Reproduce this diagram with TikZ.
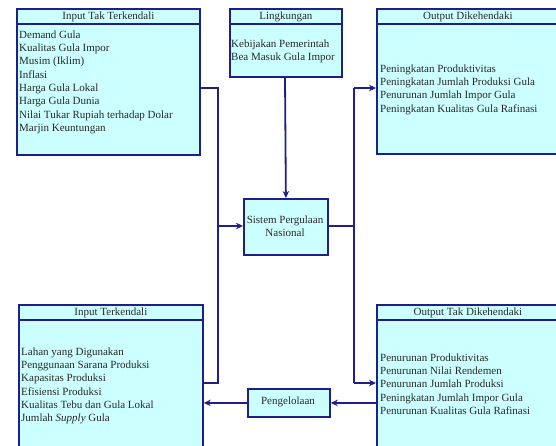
\documentclass[tikz,border=0pt]{standalone}
\usepackage{fontspec}
\setmainfont{Liberation Serif}
\usetikzlibrary{arrows.meta}
\definecolor{navy}{RGB}{30,30,140}
\definecolor{boxfill}{RGB}{204,255,255}
\definecolor{ink}{RGB}{40,40,40}
\tikzset{
  panel/.style={draw=navy, fill=boxfill, line width=1.8pt, anchor=north west, inner sep=0pt},
  head/.style={draw=navy, fill=boxfill, line width=1.8pt, anchor=north west, inner sep=0pt, minimum height=15pt, font=\fontsize{11}{12}\selectfont, text=ink},
  items/.style={anchor=north west, align=left, inner sep=0pt, font=\fontsize{11}{13.3}\selectfont, text=ink},
  link/.style={draw=navy, line width=1.8pt},
  arr/.style={link, -{Stealth[length=7pt,width=6.5pt]}},
}
\begin{document}
\begin{tikzpicture}[x=1pt,y=-1pt]
\useasboundingbox (0,0) rectangle (556,446);
\clip (0,0) rectangle (556,446);

% Input Tak Terkendali
\node[panel, minimum width=183pt, minimum height=146pt] (itk) at (16,8) {};
\node[head, minimum width=183pt] (itkh) at (16,8) {Input Tak Terkendali};
\node[items] (itkt) at (19,30.5) {Demand Gula\\Kualitas Gula Impor\\Musim (Iklim)\\Inflasi\\Harga Gula Lokal\\Harga Gula Dunia\\Nilai Tukar Rupiah terhadap Dolar\\Marjin Keuntungan};

% Lingkungan
\node[panel, minimum width=112pt, minimum height=68pt] (lk) at (229,8) {};
\node[head, minimum width=112pt] (lkh) at (229,8) {Lingkungan};
\node[items] (lkt) at (231,39.5) {Kebijakan Pemerintah\\Bea Masuk Gula Impor};

% Output Dikehendaki
\node[panel, minimum width=182pt, minimum height=145pt] (od) at (376,8) {};
\node[head, minimum width=182pt] (odh) at (376,8) {Output Dikehendaki};
\node[items] (odt) at (380,64.5) {Peningkatan Produktivitas\\Peningkatan Jumlah Produksi Gula\\Penurunan Jumlah Impor Gula\\Peningkatan Kualitas Gula Rafinasi};

% Sistem Pergulaan Nasional
\node[panel, minimum width=84pt, minimum height=56pt] (sys) at (243,198) {};
\node[items, anchor=center, align=center] (syst) at (285,226) {Sistem Pergulaan\\Nasional};

% Input Terkendali
\node[panel, minimum width=184pt, minimum height=160pt] (it) at (18,304) {};
\node[head, minimum width=184pt] (ith) at (18,304) {Input Terkendali};
\node[items] (itt) at (21,347.5) {Lahan yang Digunakan\\Penggunaan Sarana Produksi\\Kapasitas Produksi\\Efisiensi Produksi\\Kualitas Tebu dan Gula Lokal\\Jumlah \textit{Supply} Gula};

% Pengelolaan
\node[panel, minimum width=82pt, minimum height=28pt] (pg) at (247,388) {};
\node[items, anchor=center] (pgt) at (288,402) {Pengelolaan};

% Output Tak Dikehendaki
\node[panel, minimum width=182pt, minimum height=160pt] (otd) at (376,304) {};
\node[head, minimum width=182pt] (otdh) at (376,304) {Output Tak Dikehendaki};
\node[items] (otdt) at (380,353.5) {Penurunan Produktivitas\\Penurunan Nilai Rendemen\\Penurunan Jumlah Produksi\\Peningkatan Jumlah Impor Gula\\Penurunan Kualitas Gula Rafinasi};

% junction points of the connectors
\coordinate (jl1) at (218,88);
\coordinate (jl2) at (218,383);
\coordinate (jlm) at (218,226);
\coordinate (jr1) at (354,88);
\coordinate (jr2) at (354,383);
\coordinate (jrm) at (354,226);

% inputs feeding the system
\draw[link] (itk.east |- jl1) -- (jl1) -- (jl2) -- (it.east |- jl2);
\draw[arr] (jlm) -- (sys.west |- jlm);
\draw[arr] (lk.south -| syst) -- (sys.north);

% system feeding the outputs
\draw[link] (sys.east |- jrm) -- (jrm);
\draw[link] (jr1) -- (jr2);
\draw[arr] (jr1) -- (od.west |- jr1);
\draw[arr] (jr2) -- (otd.west |- jr2);

% feedback through management
\draw[arr] (otd.west |- pg.east) -- (pg.east);
\draw[arr] (pg.west) -- (it.east |- pg.west);
\end{tikzpicture}
\end{document}
